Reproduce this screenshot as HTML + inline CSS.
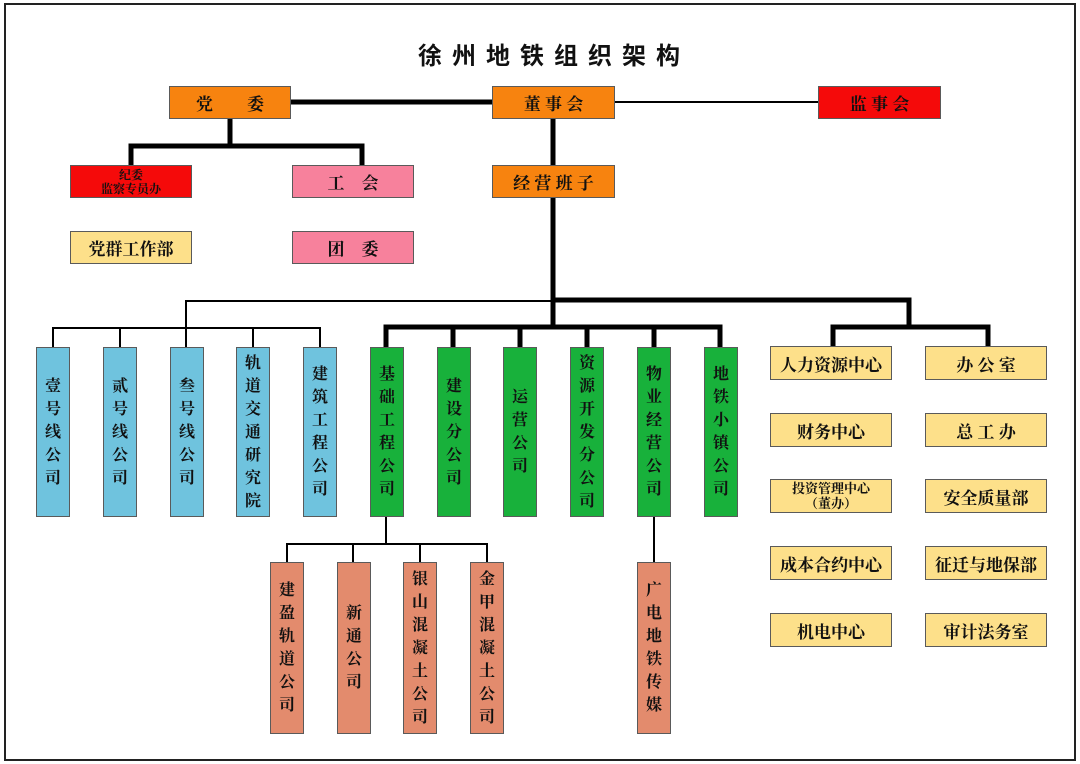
<!DOCTYPE html>
<html><head><meta charset="utf-8"><style>
body{margin:0;width:1080px;height:764px;background:#fff;position:relative;overflow:hidden;font-family:"Liberation Serif","Noto Serif CJK SC",serif;}
.b{position:absolute;box-sizing:border-box;border:1px solid #5a5a5a;display:flex;align-items:center;justify-content:center;text-align:center;font-weight:bold;color:#111;}
.h{font-size:17px;}
.v{font-size:16px;line-height:23px;width:34px;padding:0 8px;word-break:break-all;}
.o{background:#f7830f}.r{background:#f50a0a}.p{background:#f7819c}.y{background:#fde08a}.bl{background:#6fc3de}.g{background:#18b13b}.s{background:#e38b6d}
svg{position:absolute;left:0;top:0}
</style></head><body>
<svg width="1080" height="764">
<rect x="5" y="4" width="1070" height="756" fill="none" stroke="#222" stroke-width="2"/>
<g stroke="#000" fill="none">
<line x1="291" y1="102" x2="492" y2="102" stroke-width="5"/>
<line x1="615" y1="102" x2="818" y2="102" stroke-width="2"/>
<polyline points="230,119 230,146 131,146 131,165" stroke-width="5"/>
<polyline points="230,146 362,146 362,165" stroke-width="5"/>
<line x1="553" y1="119" x2="553" y2="165" stroke-width="5"/>
<line x1="553" y1="198" x2="553" y2="328" stroke-width="5"/>
<polyline points="553,300 909,300 909,327" stroke-width="5"/>
<polyline points="833,347 833,327 988,327 988,347" stroke-width="5"/>
<polyline points="386,347 386,327 720,327 720,347" stroke-width="5"/>
<line x1="453" y1="327" x2="453" y2="347" stroke-width="5"/>
<line x1="520" y1="327" x2="520" y2="347" stroke-width="5"/>
<line x1="587" y1="327" x2="587" y2="347" stroke-width="5"/>
<line x1="654" y1="327" x2="654" y2="347" stroke-width="5"/>
<polyline points="553,301 186,301 186,328" stroke-width="2"/>
<polyline points="53,347 53,328 320,328 320,347" stroke-width="2"/>
<line x1="120" y1="328" x2="120" y2="347" stroke-width="2"/>
<line x1="186" y1="328" x2="186" y2="347" stroke-width="2"/>
<line x1="253" y1="328" x2="253" y2="347" stroke-width="2"/>
<line x1="386" y1="517" x2="386" y2="544" stroke-width="2"/>
<polyline points="287,562 287,544 487,544 487,562" stroke-width="2"/>
<line x1="353" y1="544" x2="353" y2="562" stroke-width="2"/>
<line x1="420" y1="544" x2="420" y2="562" stroke-width="2"/>
<line x1="654" y1="517" x2="654" y2="562" stroke-width="2"/>
</g>
</svg>
<div style="position:absolute;left:0;width:1108px;top:36px;text-align:center;font-family:'Liberation Sans','Noto Sans CJK SC',sans-serif;font-weight:bold;font-size:24px;letter-spacing:10px;color:#111;">徐州地铁组织架构</div>

<div class="b h o" style="left:169px;top:86px;width:122px;height:33px;">党&emsp;&emsp;委</div>
<div class="b h o" style="left:492px;top:86px;width:123px;height:33px;">董 事 会</div>
<div class="b h r" style="left:818px;top:86px;width:123px;height:33px;">监 事 会</div>
<div class="b r" style="left:70px;top:165px;width:122px;height:33px;font-size:12px;line-height:14px;">纪委<br>监察专员办</div>
<div class="b h p" style="left:292px;top:165px;width:122px;height:33px;">工&emsp;会</div>
<div class="b h o" style="left:492px;top:165px;width:123px;height:33px;">经 营 班 子</div>
<div class="b h y" style="left:70px;top:231px;width:122px;height:33px;">党群工作部</div>
<div class="b h p" style="left:292px;top:231px;width:122px;height:33px;">团&emsp;委</div>

<div class="b v bl" style="left:36px;top:347px;height:170px;">壹号线公司</div>
<div class="b v bl" style="left:103px;top:347px;height:170px;">贰号线公司</div>
<div class="b v bl" style="left:170px;top:347px;height:170px;">叁号线公司</div>
<div class="b v bl" style="left:236px;top:347px;height:170px;">轨道交通研究院</div>
<div class="b v bl" style="left:303px;top:347px;height:170px;">建筑工程公司</div>

<div class="b v g" style="left:370px;top:347px;height:170px;">基础工程公司</div>
<div class="b v g" style="left:437px;top:347px;height:170px;">建设分公司</div>
<div class="b v g" style="left:503px;top:347px;height:170px;">运营公司</div>
<div class="b v g" style="left:570px;top:347px;height:170px;">资源开发分公司</div>
<div class="b v g" style="left:637px;top:347px;height:170px;">物业经营公司</div>
<div class="b v g" style="left:704px;top:347px;height:170px;">地铁小镇公司</div>

<div class="b v s" style="left:270px;top:562px;height:172px;">建盈轨道公司</div>
<div class="b v s" style="left:337px;top:562px;height:172px;">新通公司</div>
<div class="b v s" style="left:403px;top:562px;height:172px;">银山混凝土公司</div>
<div class="b v s" style="left:470px;top:562px;height:172px;">金甲混凝土公司</div>
<div class="b v s" style="left:637px;top:562px;height:172px;">广电地铁传媒</div>

<div class="b h y" style="left:770px;top:346px;width:122px;height:34px;">人力资源中心</div>
<div class="b h y" style="left:925px;top:346px;width:122px;height:34px;">办 公 室</div>
<div class="b h y" style="left:770px;top:413px;width:122px;height:34px;">财务中心</div>
<div class="b h y" style="left:925px;top:413px;width:122px;height:34px;">总 工 办</div>
<div class="b y" style="left:770px;top:479px;width:122px;height:34px;font-size:13px;line-height:15px;">投资管理中心<br>（董办）</div>
<div class="b h y" style="left:925px;top:479px;width:122px;height:34px;">安全质量部</div>
<div class="b h y" style="left:770px;top:546px;width:122px;height:34px;">成本合约中心</div>
<div class="b h y" style="left:925px;top:546px;width:122px;height:34px;">征迁与地保部</div>
<div class="b h y" style="left:770px;top:613px;width:122px;height:34px;">机电中心</div>
<div class="b h y" style="left:925px;top:613px;width:122px;height:34px;">审计法务室</div>
</body></html>
